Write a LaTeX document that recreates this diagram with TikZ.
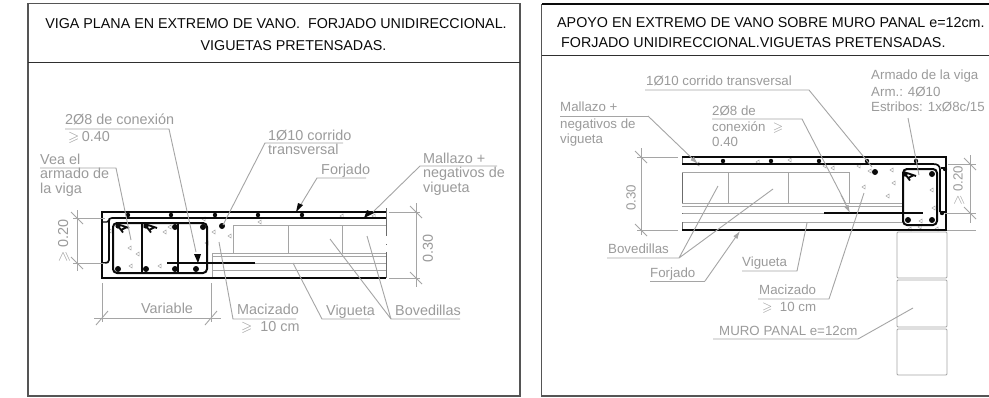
\documentclass[tikz,border=0pt]{standalone}
\usepackage{amssymb}
\usepackage{fontspec}
\setmainfont{Liberation Sans}
\usetikzlibrary{arrows.meta}
\definecolor{lab}{RGB}{155,155,155}
\definecolor{lead}{RGB}{165,165,165}
\definecolor{ink}{RGB}{10,10,10}
\definecolor{framegrey}{RGB}{85,85,85}
\tikzset{
 frame/.style={draw=framegrey,line width=1.5pt},
 heavy/.style={draw=ink,line width=1.7pt},
 rebar/.style={draw=ink,line width=2pt,rounded corners=4pt},
 lightline/.style={draw=lead,line width=.9pt},
 leader/.style={draw=lead,line width=.9pt},
 titletext/.style={font=\fontsize{14.3}{16}\selectfont,text=ink,inner sep=0pt,anchor=base},
 titleleft/.style={titletext,anchor=base west},
 bigl/.style={font=\fontsize{14.4}{16}\selectfont,text=lab,inner sep=0pt,anchor=base west},
 smalll/.style={font=\fontsize{13.3}{15}\selectfont,text=lab,inner sep=0pt,anchor=base west},
 darrow/.style={-{Latex[length=8pt,width=5pt]},draw=lead,line width=.9pt},
 grain/.style={draw=lead,line width=.5pt},
}
\newcommand{\tickmark}[2]{\draw[lightline] (#1-6,#2+7) -- (#1+6,#2-7);}
\newcommand{\tickv}[2]{\draw[lightline] (#1-6,#2-6) -- (#1+6,#2+6);}
\newcommand{\grains}[1]{\foreach \gx/\gy in {#1}{\draw[grain] (\gx,\gy) -- (\gx+3,\gy-2) -- (\gx+3,\gy+2) -- cycle;}}
\newcommand{\bardots}[2]{\foreach \gx/\gy in {#2}{\fill[ink] (\gx,\gy) circle (#1);}}
\newcommand{\hookbar}[2]{\fill[ink] (#1,#2) circle (2.6pt);\draw[draw=ink,line width=1.8pt] (#1,#2) -- ++(5,6.5) (#1,#2) ++(2,-1) -- ++(9,3) (#1,#2) ++(3,4) -- ++(6,-3);}
\begin{document}
\begin{tikzpicture}[x=1pt,y=-1pt]
\useasboundingbox (0,0) rectangle (989,397);
\fill[white] (0,0) rectangle (989,397);
% ---------- frames
\draw[frame] (28,3.7) rectangle (520,396);
\draw[draw=ink!85,line width=1pt] (28,62) -- (520,62);
\draw[draw=ink,line width=1.7pt] (989,4) -- (541.5,4);
\draw[frame] (541.5,4) -- (541.5,396) -- (989,396);
\draw[draw=ink!85,line width=1pt] (541.5,55) -- (989,55);
\node[titletext] (t1) at (276,28) {VIGA PLANA EN EXTREMO DE VANO.\ \ FORJADO UNIDIRECCIONAL.};
\node[titletext] (t2) at (293.5,50) {VIGUETAS PRETENSADAS.};
\node[titleleft] (t3) at (557,27) {APOYO EN EXTREMO DE VANO SOBRE MURO PANAL e=12cm.};
\node[titleleft] (t4) at (561,47) {FORJADO UNIDIRECCIONAL.VIGUETAS PRETENSADAS.};
% ---------- LEFT DETAIL: light parts
\draw[lightline] (233,253) -- (233,225) -- (386,225);
\draw[lightline] (288,225) -- (288,253) (342,225) -- (342,253);
\draw[lightline] (212,253) -- (386,253) (212,256) -- (386,256) (212,263) -- (386,263) (212,270) -- (386,270);
\draw[lightline] (212,253) -- (212,278);
\draw[draw=ink!60,line width=1pt] (386,208) -- (386,236) (386,244) -- (386,245) (386,252) -- (386,278);
\grains{108/231,128/248,129/266,136/254,141/226,163/232,158/266,168/227,202/219,212/232,228/236,205/243,258/222,340/216,372/216}
% left concrete
\draw[heavy] (386,212) -- (102,212) -- (102,278) -- (386,278);
\draw[heavy] (386,218) -- (112,218) .. controls (109,218) and (109,219) .. (109,222) -- (109,260) .. controls (109,262) and (108,263) .. (103,263);
\draw[heavy,line width=1.4pt] (103,222) -- (107,222) -- (109,220);
\draw[rebar] (113,223) rectangle (207,273);
\draw[draw=ink,line width=1.6pt] (142,224) -- (142,272) (178,224) -- (178,272);
\draw[draw=ink,line width=2pt] (167,263) -- (255,263);
\bardots{3pt}{118/269,146/269,175/269,196/269,175/227,203/227,222/226}
\bardots{2.2pt}{128/215,171/215,215/215,258/215,302/215}
\hookbar{118}{226}\hookbar{146}{226}
% left leaders
\node[bigl] (a1) at (65,124.5) {2Ø8 de conexión};
\node[bigl] (a2) at (68,141) {$\geqslant$\,0.40};
\draw[leader] (65,129) -- (169,129) -- (196,252);
\fill[ink] (194,254) -- (201,254) -- (198,263) -- cycle;
\node[bigl] (b1) at (40,164) {Vea el};
\node[bigl] (b2) at (40,178) {armado de};
\node[bigl] (b3) at (40,193) {la viga};
\draw[leader] (40,168) -- (116,168) -- (131,240);
\node[bigl] (c1) at (268,140) {1Ø10 corrido};
\node[bigl] (c2) at (268,154) {transversal};
\draw[leader] (343,143) -- (265,143) -- (223,225);
\node[bigl] (d1) at (321,174) {Forjado};
\draw[leader] (366,178) -- (317,178) -- (300,206);
\fill[ink] (296,212) -- (303,205) -- (298,203) -- cycle;
\node[bigl] (e1) at (423,163) {Mallazo +};
\node[bigl] (e2) at (423,177) {negativos de};
\node[bigl] (e3) at (423,192) {vigueta};
\draw[leader] (497,166) -- (420,166) -- (373,212);
\fill[ink] (364,218) -- (374,213) -- (367,210) -- cycle;
\node[bigl] (f1) at (237,314.5) {Macizado};
\node[bigl] (f2) at (241,331) {$\geqslant$\ \ 10 cm};
\draw[leader] (296,319) -- (233,319) -- (219,242);
\node[bigl] (g1) at (326,315) {Vigueta};
\draw[leader] (370,319) -- (322,319) -- (293,263);
\node[bigl] (h1) at (395,315) {Bovedillas};
\draw[leader] (460,319) -- (391,319) -- (330,239) (391,319) -- (367,236);
% left dims
\node[bigl] (v1) at (141,313) {Variable};
\draw[lightline] (94,318) -- (221,318) (102,283) -- (102,322) (211,283) -- (211,322);
\tickmark{102}{318}\tickmark{211}{318}
\draw[lightline] (77,210) -- (77,271) (73,218) -- (105,218) (73,263) -- (105,263);
\tickv{77}{218}\tickv{77}{263}
\node[bigl,rotate=90,anchor=center] (v2) at (64,241) {$\geqslant$ 0.20};
\draw[lightline] (416,203) -- (416,287) (389,212) -- (420,212) (389,278) -- (420,278);
\tickv{416}{212}\tickv{416}{278}
\node[bigl,rotate=90,anchor=center] (v3) at (428,248) {0.30};
% ---------- RIGHT DETAIL: light parts
\draw[lightline] (682,172) -- (849,172) (728,172) -- (728,203) (788,172) -- (788,203) (849,172) -- (849,203);
\draw[lightline] (682,203) -- (903,203) (682,206) -- (903,206) (682,213) -- (903,213) (682,222) -- (903,222);
\draw[draw=ink!60,line width=.9pt] (682,157) -- (682,164) (682,173) -- (682,203) (682,213) -- (682,214) (682,222) -- (682,230);
\grains{696/164,756/162,788/160,823/166,831/168,857/166,868/171,890/170,892/183,862/187,886/196,930/190,932/208,919/221,908/229,918/227,935/229}
\draw[draw=ink,line width=1.7pt] (682,157) -- (946,157) -- (946,230) -- (682,230);
\draw[heavy] (682,164) -- (933,164) .. controls (938,164) and (940,166) .. (940,170) -- (940,212);
\draw[draw=ink,line width=1.2pt] (941,168) -- (945,168) (941,212) -- (945,212);
\draw[rebar] (903,169) rectangle (937,225);
\draw[draw=ink,line width=2pt] (824,213) -- (923,213);
\bardots{3pt}{908/220,932/220,932/174,875/172}
\bardots{2.2pt}{723/161,771/161,819/161,867/161,916/161,945/169,942/213}
\hookbar{905}{174}
% right leaders
\node[smalll] (r1) at (646,85) {1Ø10 corrido transversal};
\draw[leader] (645,90) -- (809,90) -- (872,167);
\node[smalll] (r2) at (712,115) {2Ø8 de};
\node[smalll] (r3) at (712,131) {conexión\ \ $\geqslant$};
\node[smalll] (r4) at (712,146) {0.40};
\draw[leader] (712,119) -- (802,119) -- (846,204);
\draw[darrow] (841,195) -- (850,213);
\node[smalll] (r5) at (871,79) {Armado de la viga};
\node[smalll] (r6) at (871,96) {Arm.: 4Ø10};
\node[smalll] (r7) at (871,111) {Estribos: 1xØ8c/15};
\draw[leader] (908,118) -- (919,175);
\node[smalll] (r8) at (560,111) {Mallazo +};
\node[smalll] (r9) at (560,128) {negativos de};
\node[smalll] (r10) at (560,143) {vigueta};
\draw[leader] (560,116) -- (648,116);
\draw[darrow] (648,116) -- (698,164);
\node[smalll] (r11) at (608,253) {Bovedillas};
\draw[leader] (607,258) -- (679,258) -- (718,186) (679,258) -- (773,189);
\node[smalll] (r12) at (650,277) {Forjado};
\draw[leader] (650,281) -- (705,281);
\draw[darrow] (705,281) -- (740,231);
\node[smalll] (r13) at (742,266) {Vigueta};
\draw[leader] (742,271) -- (797,271) -- (807,223);
\node[smalll] (r14) at (759,294) {Macizado};
\node[smalll] (r15) at (762,311) {$\geqslant$\ \ 10 cm};
\draw[leader] (758,299) -- (829,299) -- (864,193);
\node[smalll] (r16) at (719,335) {MURO PANAL e=12cm};
\draw[leader] (713,339) -- (858,339) -- (913,308);
% bricks
\draw[lightline,rounded corners=1pt] (897,232) rectangle (947,278);
\draw[lightline,rounded corners=1pt] (897,280) rectangle (947,327);
\draw[lightline,rounded corners=1pt] (897,329) rectangle (947,375);
% right dims
\draw[lightline] (641,148) -- (641,235) (637,157) -- (678,157) (637,230) -- (678,230);
\tickv{641}{157}\tickv{641}{230}
\node[smalll,rotate=90,anchor=center] (r17) at (631,198) {0.30};
\draw[lightline] (970,155) -- (970,223) (948,164) -- (976,164) (945,213) -- (976,213) (947,230) -- (976,230);
\tickv{970}{164}\tickv{970}{213}
\node[smalll,rotate=90,anchor=center] (r18) at (959,186) {$\geqslant$ 0.20};
\end{tikzpicture}
\end{document}
